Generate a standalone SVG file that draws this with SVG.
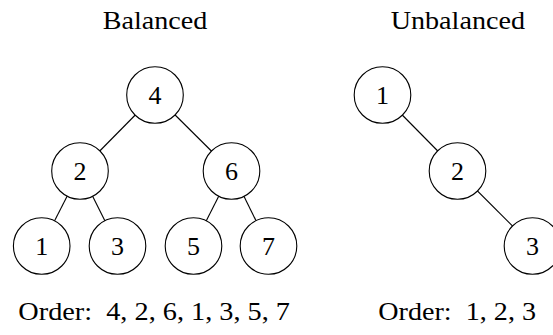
<svg xmlns="http://www.w3.org/2000/svg" width="553" height="335" viewBox="0 0 553 335">
<style>
.t{font-family:"Liberation Serif","DejaVu Serif",serif;font-size:26px;fill:#000}
.n circle{fill:#fff;stroke:#000;stroke-width:1.1}
.n text{font-family:"Liberation Serif","DejaVu Serif",serif;font-size:26px;fill:#000;text-anchor:middle}
.e line{stroke:#000;stroke-width:1.1}
</style>
<rect width="553" height="335" fill="#fff"/>
<text class="t" x="102.7" y="29" textLength="104.6" lengthAdjust="spacingAndGlyphs">Balanced</text>
<text class="t" x="390.7" y="29" textLength="134.3" lengthAdjust="spacingAndGlyphs">Unbalanced</text>
<g id="connectors" class="e">
<line x1="155" y1="95" x2="80" y2="171"/>
<line x1="155" y1="95" x2="231.5" y2="171"/>
<line x1="80" y1="171" x2="41.7" y2="246"/>
<line x1="80" y1="171" x2="117.5" y2="246"/>
<line x1="231.5" y1="171" x2="193.5" y2="246"/>
<line x1="231.5" y1="171" x2="268.5" y2="246"/>
<line x1="382.5" y1="95" x2="457.5" y2="171"/>
<line x1="457.5" y1="171" x2="532.5" y2="246"/>
</g>
<g id="b4" class="n"><circle cx="155" cy="95" r="28.3"/><text x="155" y="104">4</text></g>
<g id="b2" class="n"><circle cx="80" cy="171" r="28.3"/><text x="80" y="180">2</text></g>
<g id="b6" class="n"><circle cx="231.5" cy="171" r="28.3"/><text x="231.5" y="180">6</text></g>
<g id="b1" class="n"><circle cx="41.7" cy="246" r="28.3"/><text x="41.7" y="255">1</text></g>
<g id="b3" class="n"><circle cx="117.5" cy="246" r="28.3"/><text x="117.5" y="255">3</text></g>
<g id="b5" class="n"><circle cx="193.5" cy="246" r="28.3"/><text x="193.5" y="255">5</text></g>
<g id="b7" class="n"><circle cx="268.5" cy="246" r="28.3"/><text x="268.5" y="255">7</text></g>
<g id="u1" class="n"><circle cx="382.5" cy="95" r="28.3"/><text x="382.5" y="104">1</text></g>
<g id="u2" class="n"><circle cx="457.5" cy="171" r="28.3"/><text x="457.5" y="180">2</text></g>
<g id="u3" class="n"><circle cx="532.5" cy="246" r="28.3"/><text x="532.5" y="255">3</text></g>
<text class="t" x="18.3" y="320" textLength="271.7" lengthAdjust="spacingAndGlyphs" xml:space="preserve">Order:  4, 2, 6, 1, 3, 5, 7</text>
<text class="t" x="378.3" y="320" textLength="157.7" lengthAdjust="spacingAndGlyphs" xml:space="preserve">Order:  1, 2, 3</text>
</svg>
